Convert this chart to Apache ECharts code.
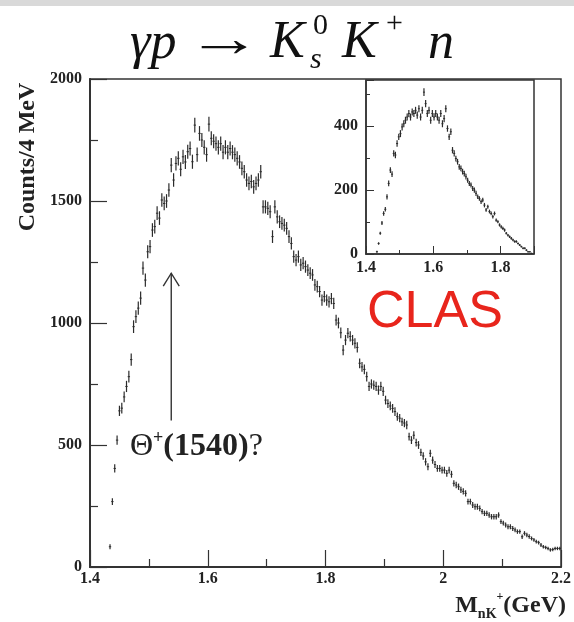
<!DOCTYPE html>
<html>
<head>
<meta charset="utf-8">
<script src="https://cdn.jsdelivr.net/npm/echarts@6/dist/echarts.min.js"></script>
<style>
  html, body { margin: 0; background: #fff; }
  #chart { width: 574px; height: 622px; }
</style>
</head>
<body>
<div id="chart"></div>
<script>
// main histogram: counts per 4 MeV bin, bin centres start at 1.434 GeV
const binStart = 1.434
const binWidth = 0.004
const counts = [
    83, 268, 404, 520, 640, 651, 697, 740, 780, 850,
    985, 1026, 1061, 1102, 1225, 1176, 1292, 1313, 1381, 1395,
    1450, 1430, 1504, 1490, 1500, 1545, 1647, 1586, 1654, 1675,
    1630, 1681, 1660, 1702, 1715, 1661, 1811, 1690, 1777, 1750,
    1720, 1690, 1815, 1757, 1745, 1735, 1720, 1735, 1700, 1720,
    1700, 1715, 1700, 1690, 1675, 1660, 1634, 1620, 1586, 1572,
    1580, 1558, 1572, 1586, 1620, 1476, 1476, 1470, 1456, 1354,
    1476, 1435, 1415, 1408, 1401, 1388, 1354, 1326, 1272, 1258,
    1272, 1238, 1245, 1231, 1217, 1204, 1197, 1156, 1149, 1129,
    1094, 1108, 1094, 1087, 1100, 1080, 1012, 1000, 960, 889,
    930, 958, 945, 930, 917, 900, 835, 820, 810, 780,
    740, 750, 745, 740, 725, 740, 720, 684, 670, 660,
    650, 637, 616, 610, 595, 590, 582, 534, 520, 540,
    510, 500, 470, 455, 431, 411, 466, 438, 420, 404,
    404, 397, 397, 384, 397, 380, 343, 336, 329, 316,
    310, 302, 268, 268, 254, 247, 247, 240, 227, 220,
    220, 213, 206, 206, 206, 213, 186, 180, 172, 165,
    165, 158, 152, 145, 145, 124, 138, 131, 125, 117,
    111, 104, 100, 90, 83, 80, 76, 70, 72, 76,
    76, 76
]
const countErr = [
    10, 14, 17, 19, 21, 22, 22, 23, 24, 25,
    26, 26, 27, 27, 27, 27, 27, 27, 28, 28,
    28, 28, 28, 28, 28, 28, 29, 28, 29, 29,
    29, 29, 29, 29, 29, 29, 30, 29, 30, 29,
    29, 29, 30, 29, 29, 29, 29, 29, 29, 29,
    29, 29, 29, 29, 29, 28, 28, 28, 28, 28,
    28, 28, 28, 28, 28, 27, 27, 27, 27, 26,
    27, 27, 26, 26, 26, 26, 26, 25, 25, 25,
    25, 25, 25, 25, 24, 24, 24, 24, 24, 23,
    23, 23, 23, 23, 23, 23, 22, 22, 22, 21,
    21, 21, 21, 21, 21, 21, 20, 20, 20, 20,
    19, 19, 19, 19, 19, 19, 19, 18, 18, 18,
    18, 18, 17, 17, 17, 17, 17, 16, 16, 16,
    16, 16, 15, 15, 15, 14, 15, 15, 14, 14,
    14, 14, 14, 14, 14, 14, 13, 13, 13, 13,
    13, 13, 12, 12, 12, 12, 12, 12, 11, 11,
    11, 11, 11, 11, 11, 11, 10, 10, 10, 10,
    10, 10, 10, 9, 9, 9, 9, 9, 9, 8,
    8, 8, 8, 8, 7, 7, 7, 7, 7, 7,
    7, 7
]

// inset histogram
const insetStart = 1.4325
const insetWidth = 0.005
const insetCounts = [
    7, 33, 65, 97, 127, 140, 179, 221, 263, 250,
    315, 310, 346, 367, 377, 398, 408, 419, 429, 440,
    429, 445, 440, 450, 435, 455, 429, 450, 507, 471,
    440, 450, 419, 440, 429, 440, 429, 419, 440, 408,
    424, 455, 393, 367, 383, 325, 315, 299, 289, 273,
    268, 258, 252, 242, 231, 221, 216, 205, 200, 190,
    179, 174, 164, 169, 153, 138, 148, 133, 127, 117,
    127, 106, 101, 91, 85, 80, 75, 65, 59, 54,
    49, 44, 39, 39, 33, 28, 23, 18, 18, 12,
    7, 7, 2
]
const insetErr = [
    3, 4, 5, 6, 7, 7, 8, 9, 9, 9,
    10, 10, 10, 10, 11, 11, 11, 11, 11, 11,
    11, 11, 11, 11, 11, 11, 11, 11, 12, 11,
    11, 11, 11, 11, 11, 11, 11, 11, 11, 11,
    11, 11, 10, 10, 10, 10, 10, 9, 9, 9,
    9, 9, 9, 9, 8, 8, 8, 8, 8, 8,
    7, 7, 7, 7, 7, 6, 6, 6, 6, 6,
    6, 5, 5, 5, 5, 5, 5, 4, 4, 4,
    4, 4, 4, 4, 3, 3, 3, 3, 3, 3,
    2, 2, 2
]

// the Theta+ arrow, in data units of the main plot
const arrowMass = 1.538
const arrowFrom = 600
const arrowTo = 1204

const ink = '#2b2b2b'
const serif = '"Liberation Serif", "DejaVu Serif", serif'

const toRows = (start, width, values, errs) =>
    values.map((v, i) => [+(start + i * width).toFixed(4), v, errs[i]])

function errorBars(width) {
    return function (params, api) {
        const x = api.value(0)
        const y = api.value(1)
        const e = api.value(2)
        const hi = api.coord([x, y + e])
        const lo = api.coord([x, Math.max(y - e, 0)])
        const mid = api.coord([x, y])
        const half = Math.max(api.size([width, 0])[0] / 2, 1)
        return {
            type: 'group',
            children: [
                { type: 'line', shape: { x1: hi[0], y1: hi[1], x2: lo[0], y2: lo[1] }, style: { stroke: ink, lineWidth: 1.2 } },
                { type: 'line', shape: { x1: mid[0] - half, y1: mid[1], x2: mid[0] + half, y2: mid[1] }, style: { stroke: ink, lineWidth: 1 } }
            ]
        }
    }
}

function arrow(params, api) {
    const a = api.coord([api.value(0), api.value(1)])
    const b = api.coord([api.value(0), api.value(2)])
    return {
        type: 'group',
        children: [
            { type: 'line', shape: { x1: a[0], y1: a[1], x2: b[0], y2: b[1] }, style: { stroke: '#333', lineWidth: 1.4 } },
            { type: 'polyline', shape: { points: [[b[0] - 8, b[1] + 13], [b[0], b[1]], [b[0] + 8, b[1] + 13]] }, style: { stroke: '#333', lineWidth: 1.4, fill: null } }
        ]
    }
}

const tickLabel = { fontFamily: serif, fontWeight: 'bold', fontSize: 16, color: '#222' }
const titleText = (text, x, y, size, italic) => ({
    type: 'text', x: x, y: y,
    style: { text: text, fontFamily: serif, fontStyle: italic ? 'italic' : 'normal', fontSize: size, fill: '#111', verticalAlign: 'middle' }
})

const chart = echarts.init(document.getElementById('chart'))
chart.setOption({
    animation: false,
    backgroundColor: '#fff',
    grid: [
        { left: 90, right: 10, top: 79, bottom: 55, show: true, borderColor: '#333', borderWidth: 1.5 },
        { left: 366, width: 168, top: 80, height: 174, show: true, borderColor: '#333', borderWidth: 1.5, backgroundColor: '#fff' }
    ],
    xAxis: [
        {
            type: 'value', gridIndex: 0, min: 1.4, max: 2.2, interval: 0.2,
            axisLine: { lineStyle: { color: '#333', width: 2 } },
            axisTick: { inside: true, length: 17, lineStyle: { color: '#333', width: 1.2 } },
            minorTick: { show: true, splitNumber: 2, length: 8, lineStyle: { color: '#333', width: 1.2 } },
            splitLine: { show: false },
            axisLabel: { ...tickLabel, margin: 4 }
        },
        {
            type: 'value', gridIndex: 1, min: 1.4, max: 1.9, interval: 0.2,
            axisLine: { lineStyle: { color: '#333', width: 1.5 } },
            axisTick: { inside: true, length: 8, lineStyle: { color: '#333' } },
            minorTick: { show: true, splitNumber: 2, length: 4, lineStyle: { color: '#333' } },
            splitLine: { show: false },
            axisLabel: { ...tickLabel, margin: 6, showMaxLabel: false }
        }
    ],
    yAxis: [
        {
            type: 'value', gridIndex: 0, min: 0, max: 2000, interval: 500,
            axisLine: { show: true, lineStyle: { color: '#333', width: 2 } },
            axisTick: { show: true, inside: true, length: 17, lineStyle: { color: '#333', width: 1.2 } },
            minorTick: { show: true, splitNumber: 2, length: 8, lineStyle: { color: '#333', width: 1.2 } },
            splitLine: { show: false },
            axisLabel: { ...tickLabel, margin: 8, formatter: v => String(v) }
        },
        {
            type: 'value', gridIndex: 1, min: 0, max: 545, interval: 200,
            axisLine: { show: true, lineStyle: { color: '#333', width: 1.5 } },
            axisTick: { show: true, inside: true, length: 8, lineStyle: { color: '#333' } },
            minorTick: { show: true, splitNumber: 2, length: 4, lineStyle: { color: '#333' } },
            splitLine: { show: false },
            axisLabel: { ...tickLabel, margin: 8, showMaxLabel: false, formatter: v => String(v) }
        }
    ],
    series: [
        {
            type: 'custom', name: 'counts', xAxisIndex: 0, yAxisIndex: 0,
            renderItem: errorBars(binWidth),
            encode: { x: 0, y: 1 },
            data: toRows(binStart, binWidth, counts, countErr)
        },
        {
            type: 'custom', name: 'inset', xAxisIndex: 1, yAxisIndex: 1,
            renderItem: errorBars(insetWidth),
            encode: { x: 0, y: 1 },
            data: toRows(insetStart, insetWidth, insetCounts, insetErr)
        },
        {
            type: 'custom', name: 'arrow', xAxisIndex: 0, yAxisIndex: 0,
            renderItem: arrow,
            encode: { x: 0, y: [1, 2] },
            data: [[arrowMass, arrowFrom, arrowTo]]
        }
    ],
    graphic: [
        { type: 'rect', left: 0, top: 0, shape: { width: 574, height: 6 }, style: { fill: '#d9d9d9' } },
        // title: gamma p -> K_s^0 K^+ n
        titleText('γp', 130, 44, 52, true),
        { ...titleText('→', 0, 0, 52, false), x: 186, y: 42, scaleX: 1.45 },
        titleText('K', 270, 43, 52, true),
        titleText('0', 313, 26, 30, false),
        titleText('s', 310, 60, 30, true),
        titleText('K', 342, 43, 52, true),
        titleText('+', 386, 24, 30, false),
        titleText('n', 428, 44, 52, true),
        // y axis title
        { type: 'text', x: 28, y: 157, rotation: Math.PI / 2, style: { text: 'Counts/4 MeV', fontFamily: serif, fontWeight: 'bold', fontSize: 24, fill: '#222', align: 'center', verticalAlign: 'middle' } },
        // x axis title
        {
            type: 'text', x: 566, y: 606,
            style: {
                text: '{m|M}{s|nK}{p|+}{m|(GeV)}', align: 'right', verticalAlign: 'middle',
                rich: {
                    m: { fontFamily: serif, fontWeight: 'bold', fontSize: 24, fill: '#222' },
                    s: { fontFamily: serif, fontWeight: 'bold', fontSize: 14, fill: '#222', verticalAlign: 'bottom', lineHeight: 30 },
                    p: { fontFamily: serif, fontWeight: 'bold', fontSize: 12, fill: '#222', verticalAlign: 'top', lineHeight: 30 }
                }
            }
        },
        // Theta+ label
        {
            type: 'text', x: 130, y: 447,
            style: {
                text: '{t|Θ}{p|+}{n|(1540)}{q|?}', verticalAlign: 'middle',
                rich: {
                    t: { fontFamily: serif, fontSize: 32, fill: '#222' },
                    p: { fontFamily: serif, fontWeight: 'bold', fontSize: 18, fill: '#222', verticalAlign: 'top', lineHeight: 36 },
                    n: { fontFamily: serif, fontWeight: 'bold', fontSize: 32, fill: '#222' },
                    q: { fontFamily: serif, fontSize: 32, fill: '#222' }
                }
            }
        },
        { type: 'text', x: 367, y: 313, style: { text: 'CLAS', fontFamily: '"Liberation Sans", Arial, sans-serif', fontSize: 52, fill: '#e8251c', verticalAlign: 'middle' } }
    ]
})
</script>
</body>
</html>
